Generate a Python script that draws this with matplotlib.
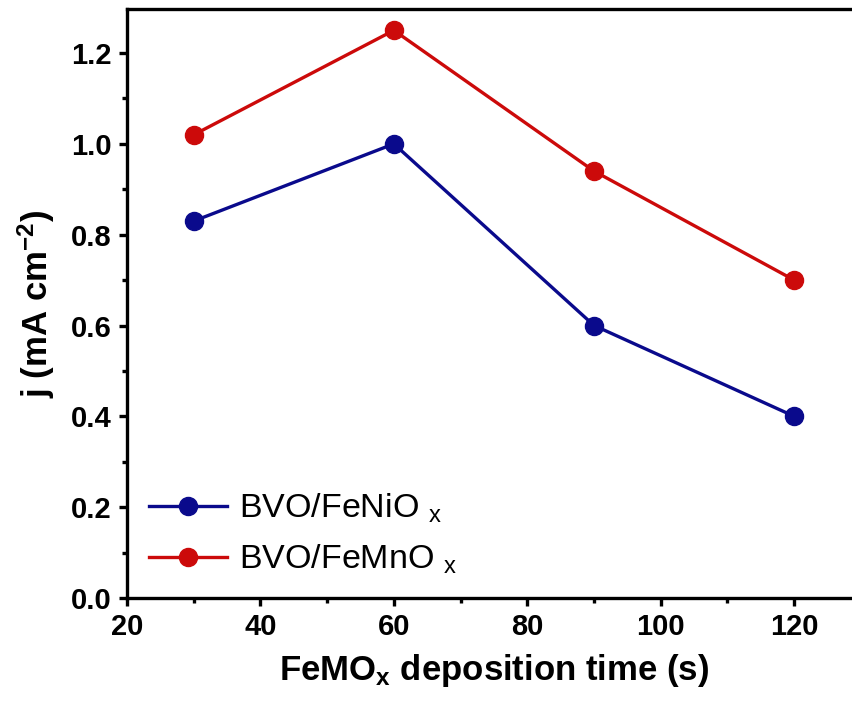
import matplotlib
matplotlib.use('Agg')
import matplotlib.pyplot as plt
from matplotlib.ticker import MultipleLocator

plt.rcParams['font.family'] = ['Liberation Sans', 'DejaVu Sans']
plt.rcParams['mathtext.fontset'] = 'custom'
plt.rcParams['mathtext.rm'] = 'Liberation Sans'
plt.rcParams['mathtext.bf'] = 'Liberation Sans:bold'
plt.rcParams['mathtext.default'] = 'regular'

# deposition time (s) and photocurrent density (mA cm^-2)
times = [30, 60, 90, 120]
j_feniox = [0.83, 1.00, 0.60, 0.40]
j_femnox = [1.02, 1.25, 0.94, 0.70]
labels = ['BVO/FeNiO $_x$', 'BVO/FeMnO $_x$']

blue = '#0a0a8c'
red = '#cc0a0a'

fig = plt.figure(figsize=(8.52, 7.09), dpi=100)
ax = fig.add_axes([0.149, 0.1566, 0.8615, 0.8307])

ax.plot(times, j_feniox, '-o', color=blue, lw=2.4, ms=13, label=labels[0])
ax.plot(times, j_femnox, '-o', color=red, lw=2.4, ms=13, label=labels[1])

ax.set_xlim(20, 130)
ax.set_ylim(0, 1.297)
ax.xaxis.set_major_locator(MultipleLocator(20))
ax.xaxis.set_minor_locator(MultipleLocator(10))
ax.yaxis.set_major_locator(MultipleLocator(0.2))
ax.yaxis.set_minor_locator(MultipleLocator(0.1))
ax.yaxis.set_major_formatter(plt.FormatStrFormatter('%.1f'))

for s in ax.spines.values():
    s.set_linewidth(2.4)
ax.tick_params(which='major', direction='out', length=6, width=2.4, labelsize=21, pad=5)
ax.tick_params(which='minor', direction='out', length=3.5, width=2.4)
for lab in ax.get_xticklabels() + ax.get_yticklabels():
    lab.set_fontweight('bold')

ax.set_xlabel('FeMO$_\\mathbf{x}$ deposition time (s)', fontsize=25, fontweight='bold', labelpad=8)
ax.set_ylabel('j (mA cm$^{\\mathbf{-2}}$)', fontsize=25, fontweight='bold', labelpad=10)

ax.legend(loc='lower left', bbox_to_anchor=(0.0, 0.0), frameon=False, fontsize=24.5,
          handlelength=2.3, handletextpad=0.35, labelspacing=0.5, borderaxespad=0.25)

fig.savefig('out.png', dpi=100)
